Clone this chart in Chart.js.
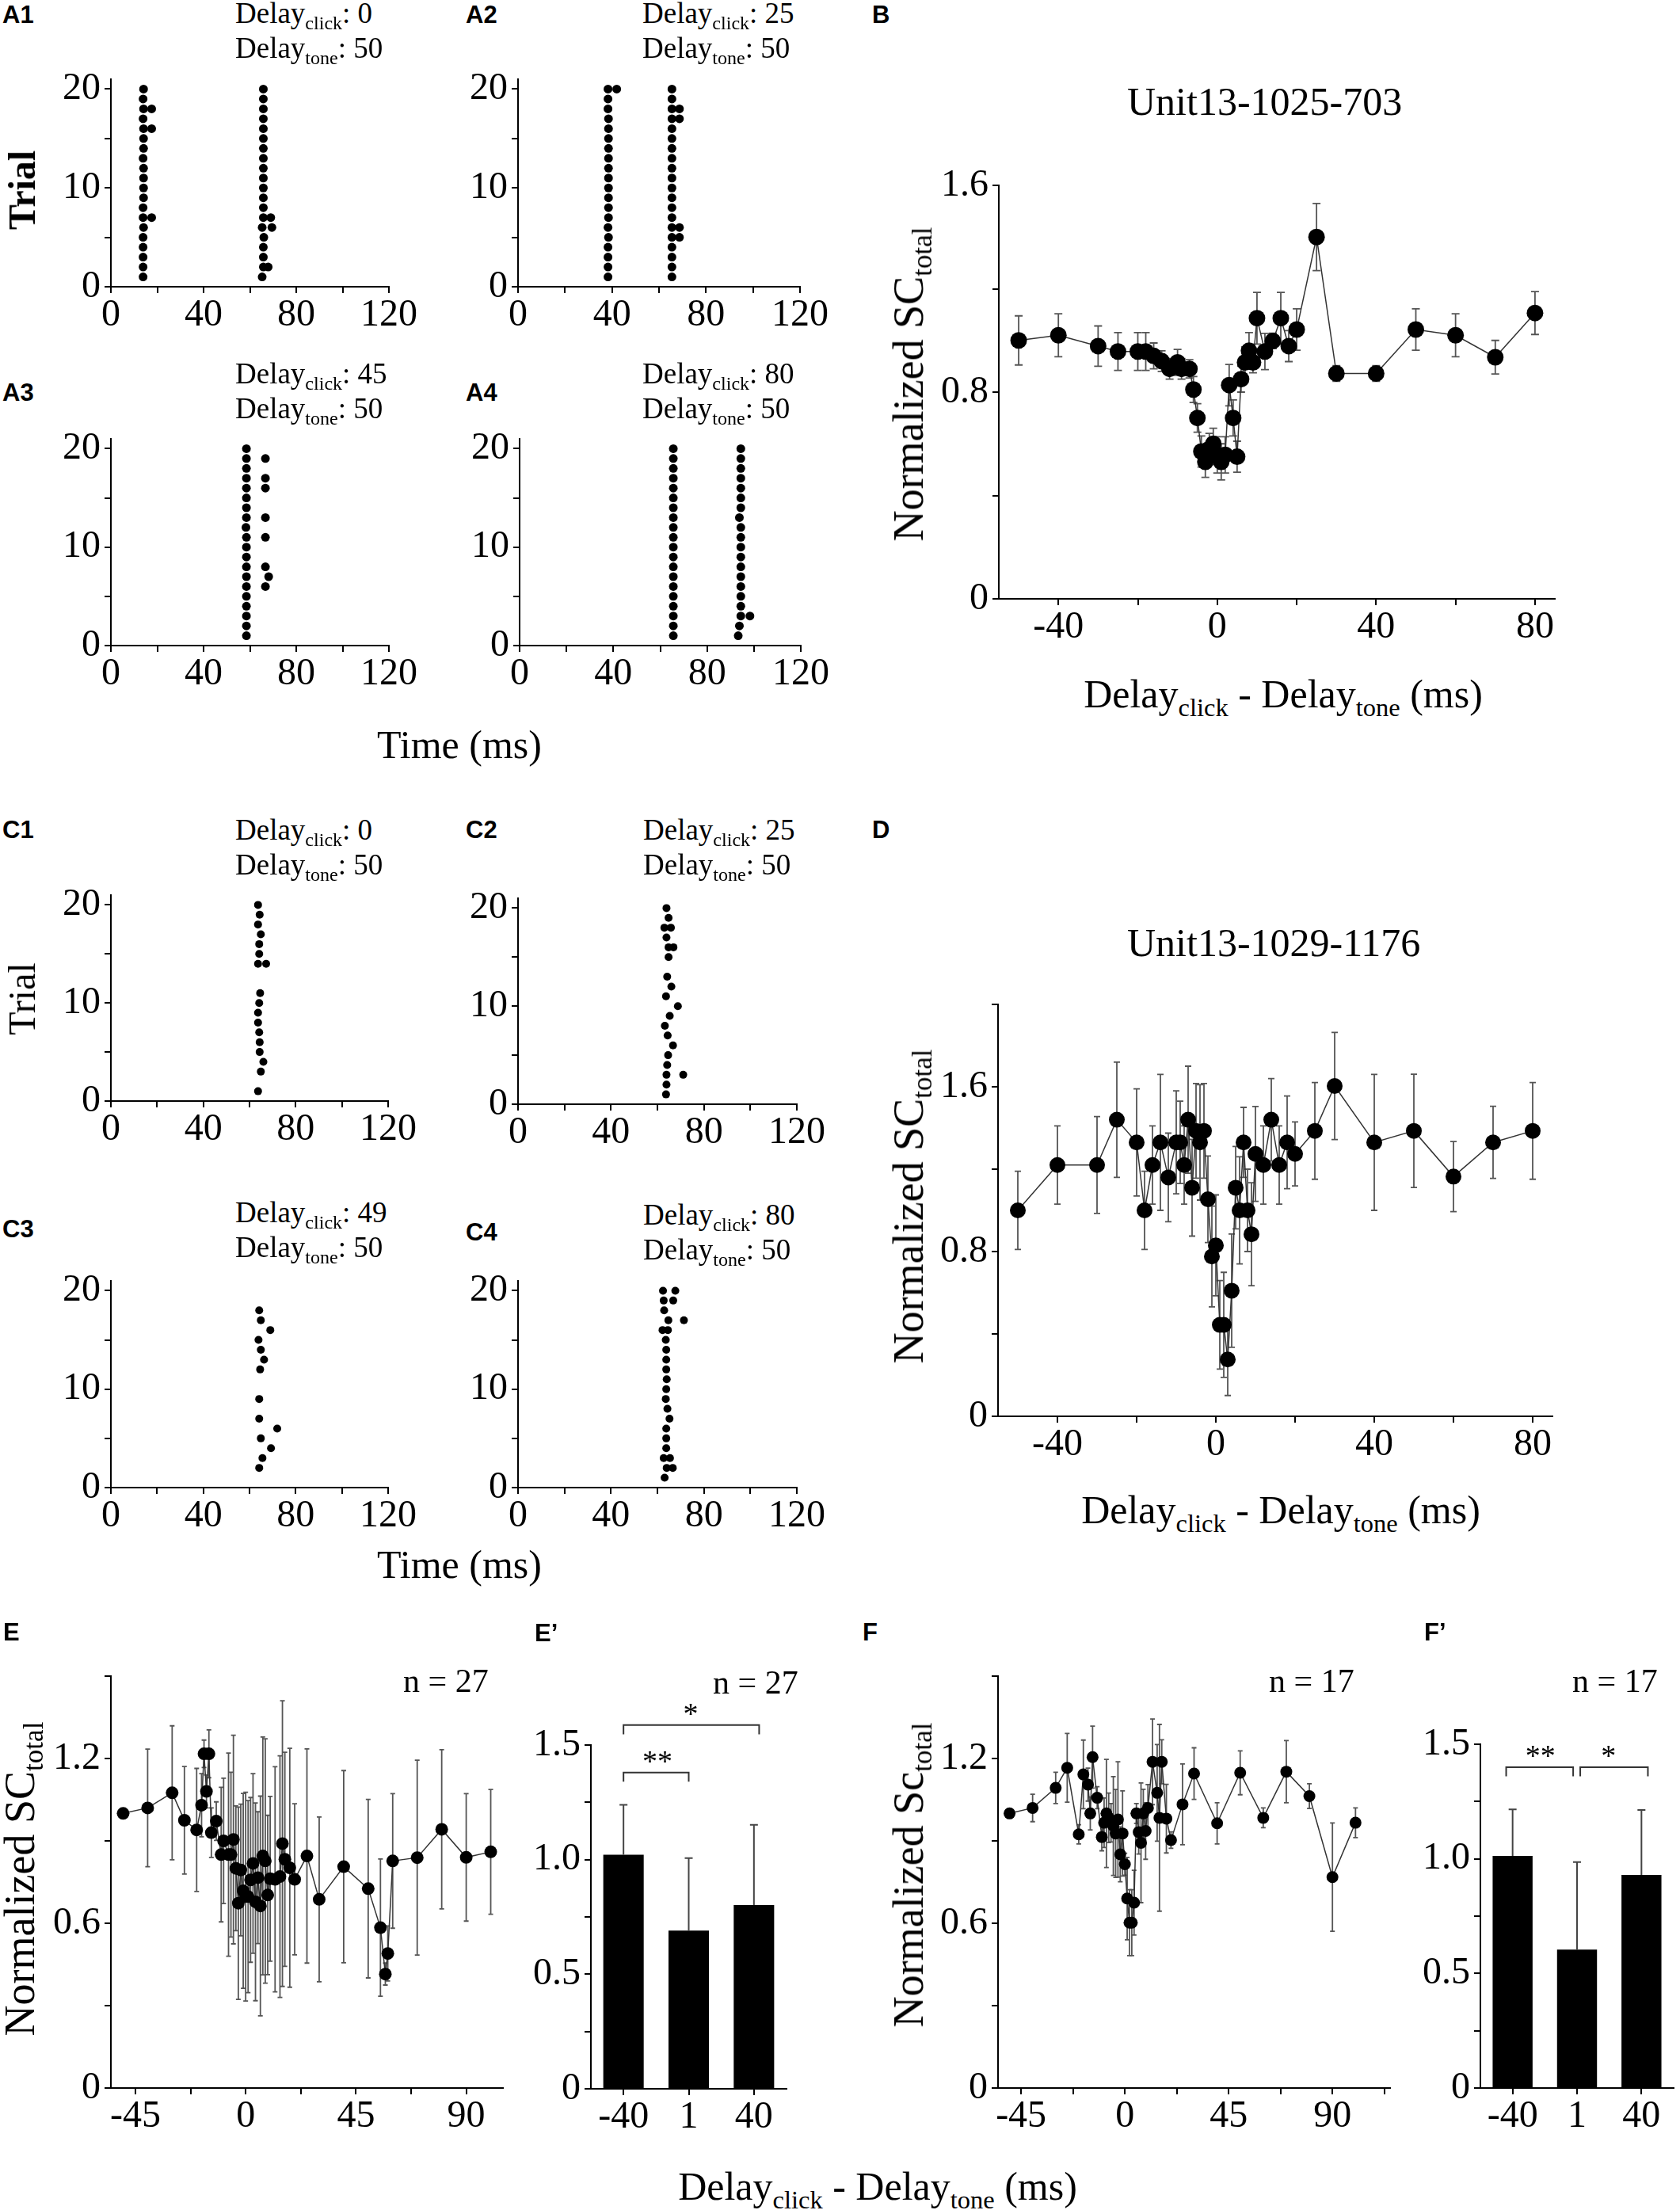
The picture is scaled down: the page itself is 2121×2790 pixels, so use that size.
<!DOCTYPE html>
<html>
<head>
<meta charset="utf-8">
<script src="https://cdn.jsdelivr.net/npm/chart.js@4.4.1/dist/chart.umd.min.js"></script>
<style>
body { margin: 0; background: #fff; }
#page { position: relative; width: 2121px; height: 2790px; overflow: hidden; background: #fff; }
.t { position: absolute; white-space: nowrap; line-height: 1; color: #000; font-family: "Liberation Serif", "Times New Roman", serif; }
.sb { font-size: 0.65em; position: relative; top: 0.32em; }
</style>
</head>
<body>
<div id="page"></div>
<script>
// ---------- data ----------
const clickDelaysA = [0, 25, 45, 80];
const clickDelaysC = [0, 25, 49, 80];
const toneDelay = 50;

// spike times (ms), one list per trial, trial 1 first
const spikesA1 = [[13.9,65.3],[13.9,65.8,67.9],[13.9,65.8],[13.9,65.8],[13.9,66.0],[14.1,65.3,69.5],[13.9,17.6,65.8,69.0],[13.9,65.8],[14.1,65.8],[14.1,65.8],
                  [14.1,65.8],[14.1,65.8],[13.9,65.8],[14.1,65.8],[14.1,65.8],[14.1,17.6,65.8],[13.9,65.8],[14.1,17.6,65.8],[13.9,65.8],[14.1,65.8]];
const spikesA2 = [[38.3,65.5],[38.3,65.5],[38.3,65.5],[38.3,65.5],[38.5,65.5,68.7],[38.3,65.5,68.7],[38.5,65.5],[38.5,65.5],[38.5,65.5],[38.5,65.5],
                  [38.5,65.5],[38.5,65.5],[38.5,65.5],[38.5,65.5],[38.5,65.5],[38.5,65.5],[38.5,65.5,68.7],[38.3,65.5,68.7],[38.3,65.5],[38.3,42.0,65.5]];
const spikesA3 = [[58.5],[58.5],[58.5],[58.5],[58.5],[58.5,66.7],[58.5,68.1],[58.5,66.7],[58.5],[58.5],
                  [58.5,66.7],[58.3],[58.5,66.7],[58.5],[58.5],[58.5,66.7],[58.5,66.7],[58.5],[58.5,66.7],[58.5]];
const spikesA4 = [[65.6,93.3],[65.6,93.8],[65.6,94.4,98.3],[65.6,94.4],[65.6,94.4],[65.6,94.4],[65.6,94.4],[65.6,94.4],[65.6,94.4],[65.6,94.4],
                  [65.6,94.4],[65.6,94.4],[65.6,93.8],[65.6,94.4],[65.6,94.4],[65.6,94.4],[65.6,94.4],[65.6,94.4],[65.6,94.4],[65.6,94.4]];
const spikesC1 = [[63.7],[],[64.9],[66.0],[64.4],[64.4],[64.2],[63.7],[63.7],[64.2],
                  [64.6],[],[],[63.7,67.2],[64.2],[64.2],[64.9],[63.7],[64.4],[63.7]];
const spikesC2 = [[63.7],[63.9],[63.9,71.1],[64.2],[64.6],[66.7],[64.4],[63.2],[65.3],[68.8],
                  [63.7],[66.0],[64.2],[],[64.8],[64.8,66.9],[63.9],[63.0,65.8],[64.8],[63.9]];
const spikesC3 = [[],[64.2],[65.6],[69.3],[64.9],[72.0],[64.2],[],[64.2],[],
                  [],[64.6],[66.3],[64.9],[63.9],[69.0],[64.9],[64.2],[],[]];
const spikesC4 = [[63.1],[64.0,66.6],[62.7,65.4],[63.8],[63.8],[63.8],[65.2],[64.3],[63.6],[63.8],
                  [64.0],[63.8],[63.8],[63.8],[63.6],[62.2,64.5],[64.7,71.4],[62.9],[62.7,66.8],[62.4,67.7]];

// panel B: Unit13-1025-703
const bDelay = [-50,-40,-30,-25,-20,-18,-16,-14,-12,-10,-9,-7,-6,-5,-4,-3,-2,-1,0,1,2,3,4,5,6,7,8,9,10,12,14,16,18,20,25,30,40,50,60,70,80];
const bSC    = [1.0,1.02,0.978,0.957,0.957,0.957,0.94,0.92,0.89,0.915,0.89,0.89,0.81,0.70,0.57,0.53,0.58,0.60,0.557,0.53,0.557,0.827,0.70,0.55,0.85,0.915,0.96,0.915,1.086,0.957,0.998,1.086,0.978,1.042,1.40,0.872,0.872,1.042,1.02,0.935,1.106];
const bErr   = [0.095,0.083,0.078,0.073,0.073,0.073,0.05,0.04,0.04,0.05,0.04,0.035,0.05,0.055,0.06,0.06,0.06,0.06,0.07,0.07,0.07,0.08,0.07,0.06,0.05,0.06,0.07,0.04,0.1,0.07,0.03,0.1,0.06,0.08,0.13,0.03,0.03,0.08,0.083,0.065,0.083];

// panel D: Unit13-1029-1176
const dDelay = [-50,-40,-30,-25,-20,-18,-16,-14,-12,-10,-9,-8,-7,-6,-5,-4,-3,-2,-1,0,1,2,3,4,5,6,7,8,9,10,12,14,16,18,20,25,30,40,50,60,70,80];
const dSC    = [1.0,1.22,1.22,1.44,1.33,1.0,1.22,1.33,1.16,1.33,1.33,1.22,1.44,1.11,1.386,1.33,1.386,1.054,0.776,0.83,0.444,0.444,0.276,0.61,1.11,1.0,1.33,1.0,0.884,1.274,1.22,1.44,1.22,1.33,1.274,1.386,1.604,1.33,1.386,1.164,1.33,1.386];
const dErr   = [0.19,0.19,0.235,0.28,0.26,0.19,0.19,0.33,0.215,0.25,0.2,0.19,0.26,0.235,0.23,0.28,0.23,0.21,0.245,0.245,0.215,0.255,0.175,0.275,0.2,0.26,0.17,0.2,0.25,0.23,0.19,0.2,0.19,0.225,0.155,0.235,0.26,0.33,0.275,0.17,0.175,0.235];

// panel E: population, n = 27
const eDelay = [-50,-40,-30,-25,-20,-18,-17,-16,-15,-14,-12,-10,-9,-7,-6,-5,-4,-3,-2,-1,0,1,2,3,4,5,6,7,8,9,10,12,14,15,16,18,20,25,30,40,50,55,57,58,60,70,80,90,100];
const eSC    = [1.0,1.02,1.075,0.975,0.94,1.03,1.217,1.08,1.217,0.93,0.972,0.85,0.9,0.85,0.85,0.905,0.8,0.673,0.794,0.718,0.697,0.697,0.758,0.818,0.678,0.766,0.663,0.845,0.827,0.703,0.762,0.76,0.77,0.89,0.833,0.802,0.76,0.845,0.687,0.806,0.726,0.584,0.415,0.49,0.827,0.839,0.942,0.84,0.86];
const eErr   = [0,0.214,0.244,0.196,0.224,0.115,0.05,0.06,0.087,0.09,0.07,0.245,0.228,0.37,0.3,0.38,0.227,0.35,0.24,0.355,0.38,0.35,0.3,0.327,0.36,0.24,0.4,0.433,0.445,0.29,0.3,0.41,0.44,0.52,0.39,0.435,0.275,0.39,0.3,0.35,0.325,0.25,0.04,0.1,0.245,0.355,0.29,0.232,0.227];

// panel F: population, n = 17
const fDelay = [-50,-40,-30,-25,-20,-18,-16,-15,-14,-12,-10,-9,-8,-7,-6,-5,-4,-3,-2,-1,0,1,2,3,4,5,6,7,8,9,10,12,14,15,16,18,20,25,30,40,50,60,70,80,90,100];
const fSC    = [1.0,1.02,1.093,1.166,0.924,1.142,1.105,1.0,1.205,1.057,0.914,0.966,1.0,0.984,0.966,0.954,0.927,0.978,0.851,0.927,0.815,0.69,0.602,0.602,0.675,1.0,0.932,0.893,1.0,0.936,1.02,1.188,1.075,0.984,1.188,0.981,0.903,1.033,1.145,0.964,1.148,0.984,1.152,1.063,0.768,0.966];
const fErr   = [0,0.05,0.057,0.125,0.035,0.125,0.06,0.06,0.113,0.04,0.05,0.09,0.197,0.09,0.07,0.18,0.16,0.21,0.1,0.155,0.04,0.15,0.12,0.12,0.118,0.036,0.08,0.218,0.088,0.103,0.085,0.156,0.176,0.34,0.08,0.125,0.03,0.147,0.094,0.075,0.08,0.036,0.113,0.045,0.197,0.054];

// bar panels E' and F'
const barCats  = ['-40', '1', '40'];
const ePrimeSC  = [1.021, 0.69, 0.802];
const ePrimeErr = [0.218, 0.317, 0.35];
const fPrimeSC  = [1.013, 0.604, 0.93];
const fPrimeErr = [0.203, 0.382, 0.283];
const sigE = [{ from: 0, to: 1, level: 1.38, at: 0.52, mark: '**' }, { from: 0, to: 2.08, level: 1.587, at: 1.03, mark: '*' }];
const sigF = [{ from: -0.1, to: 0.94, level: 1.40, at: 0.43, mark: '**' }, { from: 1.05, to: 2.1, level: 1.40, at: 1.49, mark: '*' }];

// ticks
const rasterXTicks = [0, 20, 40, 60, 80, 100, 120], rasterXLabels = [0, 40, 80, 120];
const rasterYTicks = [0, 5, 10, 15, 20], rasterYLabels = [0, 10, 20];
const unitXTicks = [-40, -20, 0, 20, 40, 60, 80], unitXLabels = [-40, 0, 40, 80];
const bYTicks = [0, 0.4, 0.8, 1.2, 1.6], dYTicks = [0, 0.4, 0.8, 1.2, 1.6, 2.0], unitYLabels = [0, 0.8, 1.6];
const eXTicks = [-45, -22.5, 0, 22.5, 45, 67.5, 90], fXTicks = [-45, -22.5, 0, 22.5, 45, 67.5, 90, 112.5], popXLabels = [-45, 0, 45, 90];
const popYTicks = [0, 0.3, 0.6, 0.9, 1.2, 1.5], popYLabels = [0, 0.6, 1.2];
const barYTicks = [0, 0.25, 0.5, 0.75, 1, 1.25, 1.5], barYLabels = [0, 0.5, 1, 1.5];

// ---------- setup ----------
const page = document.getElementById('page');
const SERIF = '"Liberation Serif", "Times New Roman", serif';
const SANS = '"Liberation Sans", Arial, sans-serif';
Chart.defaults.font.family = SERIF;
Chart.defaults.color = '#000';
Chart.defaults.animation = false;
Chart.defaults.events = [];
Chart.defaults.plugins.legend.display = false;
Chart.defaults.plugins.tooltip.enabled = false;

const YW = 130, XH = 90;

function place(area, pt, pr) {
  const c = document.createElement('canvas');
  const w = area.r - area.l + YW + pr, h = area.b - area.t + pt + XH;
  c.width = w; c.height = h;
  c.style.cssText = 'position:absolute;left:' + (area.l - YW) + 'px;top:' + (area.t - pt) + 'px;width:' + w + 'px;height:' + h + 'px;';
  page.appendChild(c);
  return c;
}

const plainFmt = v => String(v);
const decFmt = v => v === 0 ? '0' : String(v);
const fixFmt = v => v === 0 ? '0' : v.toFixed(1);

function linAxis(horizontal, min, max, ticks, labels, fmt) {
  return {
    type: 'linear', min: min, max: max,
    afterBuildTicks: s => { s.ticks = ticks.map(v => ({ value: v })); },
    afterFit: s => { if (horizontal) s.height = XH; else s.width = YW; },
    ticks: { autoSkip: false, maxRotation: 0, padding: horizontal ? 0 : 5, font: { size: 48 }, color: '#000',
             callback: v => labels.includes(v) ? fmt(v) : '' },
    grid: { drawOnChartArea: false, tickLength: 8, color: '#000', lineWidth: 2 },
    border: { color: '#000', width: 2 }
  };
}

function errPlugin(errors, st) {
  const draw = chart => {
    const ctx = chart.ctx, ys = chart.scales.y;
    const ds = chart.data.datasets[0];
    ctx.save();
    ctx.strokeStyle = st.color; ctx.lineWidth = st.width;
    chart.getDatasetMeta(0).data.forEach((el, i) => {
      const e = errors[i];
      if (!e) return;
      const v = typeof ds.data[i] === 'object' ? ds.data[i].y : ds.data[i];
      const top = ys.getPixelForValue(v + e);
      const bot = ys.getPixelForValue(st.upOnly ? v : v - e);
      ctx.beginPath();
      ctx.moveTo(el.x, top); ctx.lineTo(el.x, bot);
      ctx.moveTo(el.x - st.cap, top); ctx.lineTo(el.x + st.cap, top);
      if (!st.upOnly) { ctx.moveTo(el.x - st.cap, bot); ctx.lineTo(el.x + st.cap, bot); }
      ctx.stroke();
    });
    ctx.restore();
  };
  return st.upOnly ? { id: 'err', afterDatasetsDraw: draw } : { id: 'err', beforeDatasetsDraw: draw };
}

function sigPlugin(sigs) {
  return {
    id: 'sig',
    afterDraw(chart) {
      const ctx = chart.ctx, xs = chart.scales.x, ys = chart.scales.y;
      ctx.save();
      ctx.strokeStyle = '#333'; ctx.lineWidth = 2;
      ctx.fillStyle = '#000'; ctx.font = '38px ' + SERIF;
      ctx.textAlign = 'center'; ctx.textBaseline = 'alphabetic';
      sigs.forEach(s => {
        const x1 = xs.getPixelForValue(s.from), x2 = xs.getPixelForValue(s.to);
        const y = ys.getPixelForValue(s.level), yd = ys.getPixelForValue(s.level - 0.04);
        ctx.beginPath();
        ctx.moveTo(x1, yd); ctx.lineTo(x1, y); ctx.lineTo(x2, y); ctx.lineTo(x2, yd);
        ctx.stroke();
        ctx.fillText(s.mark, xs.getPixelForValue(s.at), y - 2);
      });
      ctx.restore();
    }
  };
}

function rasterChart(area, spikes, r) {
  const pts = spikes.flatMap((ts, i) => ts.map(t => ({ x: t, y: i + 1 })));
  new Chart(place(area, 40, 50), {
    type: 'scatter',
    data: { datasets: [{ data: pts, pointRadius: r, backgroundColor: '#000', borderWidth: 0 }] },
    options: {
      responsive: false, devicePixelRatio: 1,
      layout: { padding: { top: 40, right: 50, left: 0, bottom: 0 } },
      scales: {
        x: linAxis(true, 0, 120, rasterXTicks, rasterXLabels, plainFmt),
        y: linAxis(false, 0, 21, rasterYTicks, rasterYLabels, plainFmt)
      }
    }
  });
}

function curveChart(area, xv, yv, errs, xAxis, yAxis, r, cap) {
  new Chart(place(area, 40, 50), {
    type: 'line',
    data: { datasets: [{ data: xv.map((x, i) => ({ x: x, y: yv[i] })), borderColor: '#333', borderWidth: 1.5,
                         pointRadius: r, pointBackgroundColor: '#000', pointBorderWidth: 0, tension: 0 }] },
    options: {
      responsive: false, devicePixelRatio: 1,
      layout: { padding: { top: 40, right: 50, left: 0, bottom: 0 } },
      scales: { x: xAxis, y: yAxis }
    },
    plugins: [errPlugin(errs, { cap: cap, color: '#555', width: 1.8 })]
  });
}

function barChart(area, vals, errs, sigs) {
  new Chart(place(area, 110, 50), {
    type: 'bar',
    data: { labels: barCats, datasets: [{ data: vals, backgroundColor: '#000', borderWidth: 0, barPercentage: 0.62, categoryPercentage: 1 }] },
    options: {
      responsive: false, devicePixelRatio: 1,
      layout: { padding: { top: 110, right: 50, left: 0, bottom: 0 } },
      scales: {
        x: { type: 'category', offset: true,
             afterFit: s => { s.height = XH; },
             ticks: { padding: 0, font: { size: 48 }, color: '#000', maxRotation: 0 },
             grid: { drawOnChartArea: false, offset: false, tickLength: 8, color: '#000', lineWidth: 2 },
             border: { color: '#000', width: 2 } },
        y: linAxis(false, 0, 1.5, barYTicks, barYLabels, fixFmt)
      }
    },
    plugins: [errPlugin(errs, { cap: 5, color: '#444', width: 2, upOnly: true }), sigPlugin(sigs)]
  });
}

// ---------- charts ----------
rasterChart({ l: 140, r: 491, t: 100, b: 362 }, spikesA1, 5.5);
rasterChart({ l: 654, r: 1010, t: 100, b: 362 }, spikesA2, 5.5);
rasterChart({ l: 140, r: 491, t: 554, b: 815 }, spikesA3, 5.5);
rasterChart({ l: 656, r: 1011, t: 554, b: 815 }, spikesA4, 5.5);
rasterChart({ l: 140, r: 490, t: 1130, b: 1390 }, spikesC1, 5);
rasterChart({ l: 654, r: 1006, t: 1134, b: 1394 }, spikesC2, 5);
rasterChart({ l: 140, r: 490, t: 1617, b: 1878 }, spikesC3, 5);
rasterChart({ l: 654, r: 1006, t: 1617, b: 1878 }, spikesC4, 5);

curveChart({ l: 1261, r: 1963, t: 234, b: 756 }, bDelay, bSC, bErr,
  linAxis(true, -55, 85, unitXTicks, unitXLabels, plainFmt), linAxis(false, 0, 1.6, bYTicks, unitYLabels, decFmt), 10.5, 5);
curveChart({ l: 1260, r: 1960, t: 1268, b: 1788 }, dDelay, dSC, dErr,
  linAxis(true, -55, 85, unitXTicks, unitXLabels, plainFmt), linAxis(false, 0, 2.0, dYTicks, unitYLabels, decFmt), 10, 4);
curveChart({ l: 140, r: 635, t: 2116, b: 2636 }, eDelay, eSC, eErr,
  linAxis(true, -55, 105, eXTicks, popXLabels, plainFmt), linAxis(false, 0, 1.5, popYTicks, popYLabels, decFmt), 8, 3);
curveChart({ l: 1260, r: 1755, t: 2116, b: 2636 }, fDelay, fSC, fErr,
  linAxis(true, -55, 115, fXTicks, popXLabels, plainFmt), linAxis(false, 0, 1.5, popYTicks, popYLabels, decFmt), 7.5, 3);

barChart({ l: 746, r: 993, t: 2203, b: 2637 }, ePrimeSC, ePrimeErr, sigE);
barChart({ l: 1869, r: 2113, t: 2202, b: 2636 }, fPrimeSC, fPrimeErr, sigF);

// ---------- text ----------
function txt(html, x, base, o) {
  o = o || {};
  const fs = o.size || 48;
  const d = document.createElement('div');
  d.className = 't';
  d.innerHTML = html;
  d.style.fontSize = fs + 'px';
  if (o.sans) d.style.fontFamily = SANS;
  if (o.bold) d.style.fontWeight = 'bold';
  const asc = o.sans ? 0.8465 : 0.8375;
  if (o.rot) {
    // x is the baseline position, base is the vertical centre
    d.style.left = (x - (asc - 0.5) * fs) + 'px';
    d.style.top = base + 'px';
    d.style.transform = 'translate(-50%,-50%) rotate(-90deg)';
  } else {
    d.style.left = x + 'px';
    d.style.top = (base - asc * fs) + 'px';
    if (o.center) d.style.transform = 'translateX(-50%)';
  }
  page.appendChild(d);
}

const letters = [['A1', 3, 29], ['A2', 588, 29], ['A3', 3, 506], ['A4', 588, 506], ['B', 1101, 29],
                 ['C1', 3, 1058], ['C2', 588, 1058], ['C3', 3, 1562], ['C4', 588, 1566], ['D', 1101, 1058],
                 ['E', 4, 2071], ['E\u2019', 675, 2072], ['F', 1089, 2071], ['F\u2019', 1798, 2071]];
letters.forEach(l => txt(l[0], l[1], l[2], { sans: true, bold: true, size: 31 }));

const annoA = [[297, 29], [811, 29], [297, 484], [811, 484]];
const annoC = [[297, 1060], [812, 1060], [297, 1543], [812, 1546]];
function anno(pos, delays) {
  pos.forEach((p, i) => {
    txt('Delay<span class="sb">click</span>: ' + delays[i], p[0], p[1], { size: 37 });
    txt('Delay<span class="sb">tone</span>: ' + toneDelay, p[0], p[1] + 44, { size: 37 });
  });
}
anno(annoA, clickDelaysA);
anno(annoC, clickDelaysC);

txt('Trial', 44, 240, { rot: true, bold: true, size: 48 });
txt('Trial', 44, 1261, { rot: true, size: 48 });
txt('Time (ms)', 580, 957, { center: true, size: 50 });
txt('Time (ms)', 580, 1992, { center: true, size: 50 });

txt('Unit13-1025-703', 1423, 145, { size: 50 });
txt('Unit13-1029-1176', 1423, 1207, { size: 50 });

const scLabel = 'Normalized SC<span class="sb">total</span>';
const delayLabel = 'Delay<span class="sb">click</span> - Delay<span class="sb">tone</span> (ms)';
txt(scLabel, 1165, 485, { rot: true, size: 54 });
txt(scLabel, 1165, 1523, { rot: true, size: 54 });
txt(scLabel, 43, 2372, { rot: true, size: 54 });
txt('Normalized Sc<span class="sb">total</span>', 1165, 2367, { rot: true, size: 54 });
txt(delayLabel, 1620, 893, { center: true, size: 50 });
txt(delayLabel, 1617, 1923, { center: true, size: 50 });
txt(delayLabel, 1108, 2777, { center: true, size: 50 });

txt('n = 27', 509, 2136, { size: 42 });
txt('n = 27', 900, 2138, { size: 42 });
txt('n = 17', 1602, 2136, { size: 42 });
txt('n = 17', 1985, 2136, { size: 42 });
</script>
</body>
</html>
